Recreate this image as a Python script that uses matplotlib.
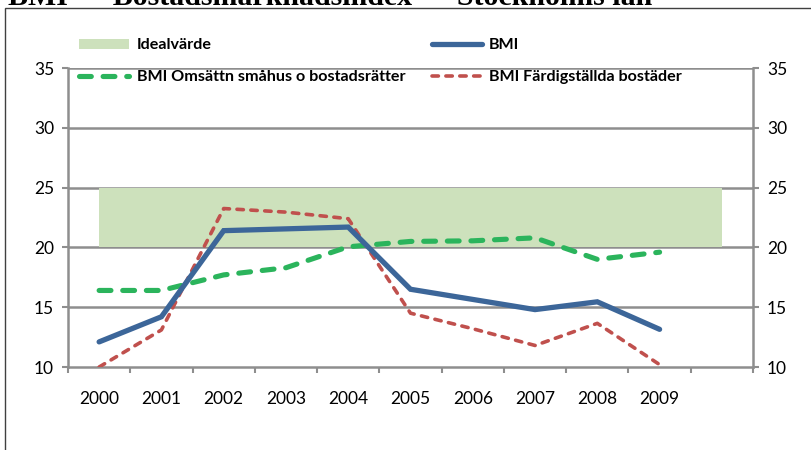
import matplotlib
matplotlib.use("Agg")
import matplotlib.pyplot as plt
from matplotlib.lines import Line2D
from matplotlib.patches import Patch, Rectangle

years = ["2000", "2001", "2002", "2003", "2004", "2005", "2006", "2007", "2008", "2009"]
bmi = [12.1, 14.2, 21.4, 21.55, 21.7, 16.5, 15.65, 14.8, 15.45, 13.15]
bmi_omsattn = [16.4, 16.4, 17.7, 18.3, 20.05, 20.5, 20.55, 20.8, 19.0, 19.6]
bmi_fardig = [10.0, 13.1, 23.25, 22.95, 22.4, 14.5, 13.2, 11.8, 13.65, 10.2]
ideal_low, ideal_high = 20, 25
n_categories = 11
yticks = [10, 15, 20, 25, 30, 35]

plt.rcParams['font.family'] = ['Lato', 'DejaVu Sans']
plt.rcParams['lines.scale_dashes'] = False

W, H = 812, 450
fig = plt.figure(figsize=(W / 100, H / 100), dpi=100)
ax = fig.add_axes([68 / W, 1 - 367 / H, (753 - 68) / W, (367 - 68) / H])

grid_c = '#8E8E8E'
blue = '#3C6699'
green = '#2BB45C'
red = '#C0504D'
band_c = '#CDE1BC'

x = list(range(len(years)))
band_x = list(range(n_categories))
ax.fill_between(band_x, ideal_low, ideal_high, color=band_c, lw=0, zorder=1.5)

ax.plot(x, bmi_omsattn, color=green, lw=3.7, dashes=(8.5, 8.5), dash_capstyle='round', zorder=3)
ax.plot(x, bmi_fardig, color=red, lw=2.6, dashes=(4.6, 5.4), dash_capstyle='round', zorder=4)
ax.plot(x, bmi, color=blue, lw=3.8, solid_capstyle='round', solid_joinstyle='miter', zorder=5)

ax.set_xlim(-0.5, n_categories - 0.5)
ax.set_ylim(10, 35)
ax.set_yticks(yticks)
for y in yticks[1:]:
    ax.axhline(y, color=grid_c, lw=1.8, zorder=1)

ax.spines['top'].set_visible(False)
for s in ['left', 'right', 'bottom']:
    ax.spines[s].set_color(grid_c)
    ax.spines[s].set_linewidth(1.8)

ax.tick_params(axis='y', which='both', left=True, right=True, labelleft=True, labelright=True,
               direction='out', length=4, width=1.5, color=grid_c, labelsize=12.5,
               labelcolor='#000000', pad=6)

ax.set_xticks([i - 0.5 for i in range(n_categories + 1)])
ax.set_xticklabels([''] * (n_categories + 1))
ax.set_xticks(x, minor=True)
ax.set_xticklabels(years, minor=True)
ax.tick_params(axis='x', which='major', direction='out', length=4, width=1.5, color=grid_c)
ax.tick_params(axis='x', which='minor', length=0, pad=17, labelsize=12.5)

handles = [
    Patch(facecolor=band_c, edgecolor='none'),
    Line2D([], [], color=green, lw=3.7, dashes=(8.5, 8.5), dash_capstyle='round'),
    Line2D([], [], color=blue, lw=3.8, solid_capstyle='round'),
    Line2D([], [], color=red, lw=2.6, dashes=(4.6, 5.4), dash_capstyle='round'),
]
labels = ["Idealvärde", "BMI Omsättn småhus o bostadsrätter", "BMI", "BMI Färdigställda bostäder"]
leg = fig.legend(handles, labels, ncol=2, loc='upper left', bbox_to_anchor=(73 / W, 1 - 32 / H),
                 frameon=False, handlelength=3.1, handleheight=0.6, handletextpad=0.45,
                 columnspacing=1.65, labelspacing=1.12, borderaxespad=0,
                 prop={'weight': 'bold', 'size': 11.6, 'family': ['Lato', 'DejaVu Sans']})

# outer chart border
fig.patches.append(Rectangle((5 / W, -0.05), 1.2, (1 - 8 / H) + 0.05, transform=fig.transFigure,
                             fill=False, edgecolor='#404040', lw=1.0, clip_on=False))

# clipped title: only the lowest pixels of the glyphs show, as in the reference
fig.text(0.01, 1 + 16 / H, "BMI  –  Bostadsmarknadsindex  –  Stockholms län", ha='left', va='top',
         fontsize=21.5, fontweight='bold', family=['Liberation Serif', 'DejaVu Serif'])

fig.savefig('out.png', dpi=100)
